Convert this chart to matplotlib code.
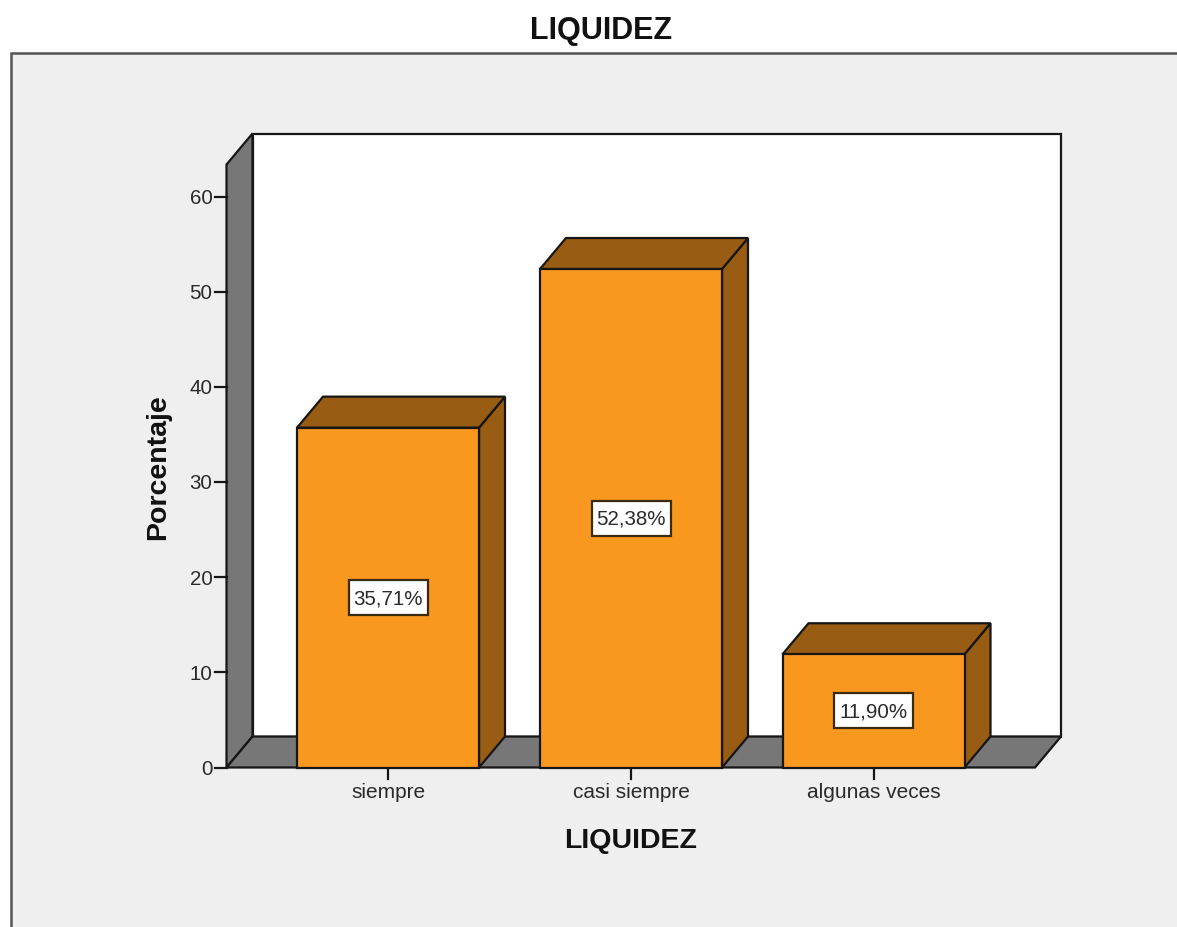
import matplotlib
matplotlib.use("Agg")
import matplotlib.pyplot as plt
from matplotlib.patches import Polygon, Rectangle

categorias = ["siempre", "casi siempre", "algunas veces"]
valores = [35.71, 52.38, 11.90]
etiquetas = ["35,71%", "52,38%", "11,90%"]
ticks_y = [0, 10, 20, 30, 40, 50, 60]

NARANJA = "#f9981f"
MARRON = "#985c12"
GRIS = "#777777"
BORDE = "#161616"
TEXTO = "#2a2a2a"
LW = 1.6

# escala del eje en pixeles del original
x0, y0 = 226.5, 768.5
py_por_unidad = (768.5 - 197.5) / 60.0
dx, dy = 26, 31   # profundidad 3D
ancho = 182
centros = [388, 631, 873.5]
tope_y = 134.5

plt.rcParams["font.family"] = ["Liberation Sans", "DejaVu Sans"]

fig = plt.figure(figsize=(11.77, 9.28), dpi=100, facecolor="white")
ax = fig.add_axes([0, 0, 1, 1])
ax.set_xlim(0, 1177)
ax.set_ylim(928, 0)
ax.axis("off")

# fondo gris del area del grafico
ax.add_patch(Rectangle((10.5, 53.5), 1180, 900, fc="#efefef", ec="#555555", lw=1.8, zorder=1))

# pared de atras, lateral y suelo
ax.add_patch(Polygon([(x0 + dx, tope_y), (1061, tope_y), (1061, y0 - dy), (x0 + dx, y0 - dy)],
                     fc="white", ec=BORDE, lw=LW, zorder=2))
ax.add_patch(Polygon([(x0, y0), (x0, tope_y + dy), (x0 + dx, tope_y), (x0 + dx, y0 - dy)],
                     fc=GRIS, ec=BORDE, lw=LW, zorder=2))
ax.add_patch(Polygon([(x0, y0), (x0 + dx, y0 - dy), (1061, y0 - dy), (1035, y0)],
                     fc=GRIS, ec=BORDE, lw=LW, zorder=2))

# barras con caras 3D
for c, v, et, cat in zip(centros, valores, etiquetas, categorias):
    izq = c - ancho / 2
    der = c + ancho / 2
    arriba = y0 - v * py_por_unidad
    ax.add_patch(Polygon([(der, y0), (der + dx, y0 - dy), (der + dx, arriba - dy), (der, arriba)],
                         fc=MARRON, ec=BORDE, lw=LW, zorder=3))
    ax.add_patch(Polygon([(izq, arriba), (izq + dx, arriba - dy), (der + dx, arriba - dy), (der, arriba)],
                         fc=MARRON, ec=BORDE, lw=LW, zorder=3))
    ax.add_patch(Rectangle((izq, arriba), ancho, y0 - arriba, fc=NARANJA, ec=BORDE, lw=LW, zorder=4))
    # caja de la etiqueta
    ym = (y0 + arriba) / 2
    ax.add_patch(Rectangle((c - 39.5, ym - 17.5), 79, 35, fc="white", ec="#3a2a10", lw=1.6, zorder=5))
    ax.text(c, ym, et, ha="center", va="center", fontsize=14.8, color=TEXTO, zorder=6)
    ax.plot([c, c], [y0, y0 + 11], color=BORDE, lw=LW, zorder=2)
    ax.text(c, 793, cat, ha="center", va="center", fontsize=15, color=TEXTO)

# eje y
for t in ticks_y:
    yy = y0 - t * py_por_unidad
    ax.plot([x0 - 12, x0], [yy, yy], color=BORDE, lw=LW, zorder=2)
    ax.text(x0 - 14, yy + 1, str(t), ha="right", va="center", fontsize=14.8, color=TEXTO)

# titulos
ax.text(601, 31.5, "LIQUIDEZ", ha="center", va="center", fontsize=22, fontweight="bold", color="#111111")
ax.text(631, 841, "LIQUIDEZ", ha="center", va="center", fontsize=20.5, fontweight="bold", color="#111111")
ax.text(158, 467, "Porcentaje", ha="center", va="center", rotation=90, fontsize=20.5, fontweight="bold", color="#111111")

fig.savefig("out.png", dpi=100)
